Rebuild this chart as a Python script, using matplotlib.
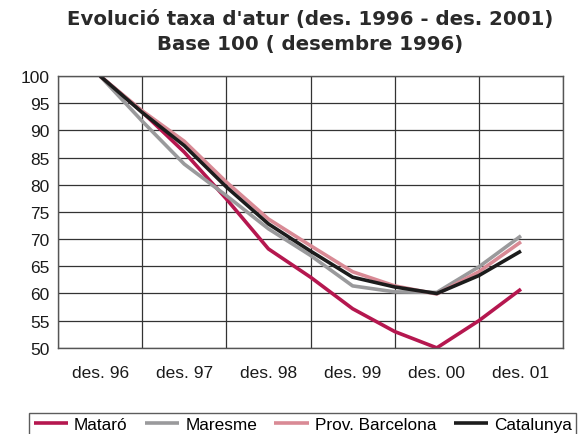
import numpy as np
import matplotlib.pyplot as plt

plt.rcParams['font.family'] = ['Liberation Sans', 'DejaVu Sans']

# DADES (base 100 = desembre 1996, punts semestrals)

etiquetes = ["des. 96", "des. 97", "des. 98", "des. 99", "des. 00", "des. 01"]
x = np.arange(11) / 2.0

mataro = [100, 93.4, 86.0, 77.4, 68.2, 63.0, 57.2, 53.0, 50.0, 55.0, 60.8]
maresme = [100, 91.7, 83.8, 78.0, 71.9, 67.0, 61.4, 60.3, 60.2, 64.9, 70.6]
prov_bcn = [100, 93.6, 88.0, 80.5, 73.7, 68.8, 64.0, 61.4, 59.9, 64.0, 69.5]
catalunya = [100, 93.3, 87.2, 79.6, 72.8, 67.8, 63.0, 61.2, 60.0, 63.3, 67.8]

# GRAFICA

fig = plt.figure(figsize=(5.88, 4.35), dpi=100)
ax = fig.add_axes([0.0986, 0.198, 0.859, 0.625])

ax.plot(x, mataro, color="#b5174f", lw=2.6, label="Mataró", solid_capstyle="butt")
ax.plot(x, maresme, color="#9a9a9c", lw=2.6, label="Maresme", solid_capstyle="butt")
ax.plot(x, prov_bcn, color="#d98a95", lw=2.6, label="Prov. Barcelona", solid_capstyle="butt")
ax.plot(x, catalunya, color="#1c1c1c", lw=2.6, label="Catalunya", solid_capstyle="butt")

ax.set_xlim(-0.5, 5.5)
ax.set_ylim(50, 100)
ax.set_yticks(np.arange(50, 101, 5))
ax.set_xticks(np.arange(6))
ax.set_xticklabels(etiquetes)
ax.set_xticks(np.arange(-0.5, 5.6, 1), minor=True)
ax.grid(False)
ax.xaxis.grid(True, which="minor", color="#333333", lw=0.9)
ax.yaxis.grid(True, which="major", color="#333333", lw=0.9)
ax.set_axisbelow(True)
ax.tick_params(axis="both", which="both", length=0, labelsize=12.5, colors="#1a1a1a")
ax.tick_params(axis="x", pad=12)
ax.tick_params(axis="y", pad=6)
for s in ax.spines.values():
    s.set_color("#555555")
    s.set_linewidth(1.0)

fig.suptitle("Evolució taxa d'atur (des. 1996 - des. 2001)\nBase 100 ( desembre 1996)",
             x=0.527, y=0.977, fontsize=14.2, fontweight="bold", linespacing=1.4,
             family="DejaVu Sans", color="#2a2a2a")

leg = fig.legend(loc="lower center", bbox_to_anchor=(0.515, -0.006), ncol=4,
                 fontsize=12.4, frameon=True, fancybox=False, handlelength=2.0,
                 handletextpad=0.35, columnspacing=1.0, borderpad=0.25,
                 borderaxespad=0.0)
leg.get_frame().set_edgecolor("#333333")
leg.get_frame().set_linewidth(1.0)

plt.savefig("out.png", dpi=100)
